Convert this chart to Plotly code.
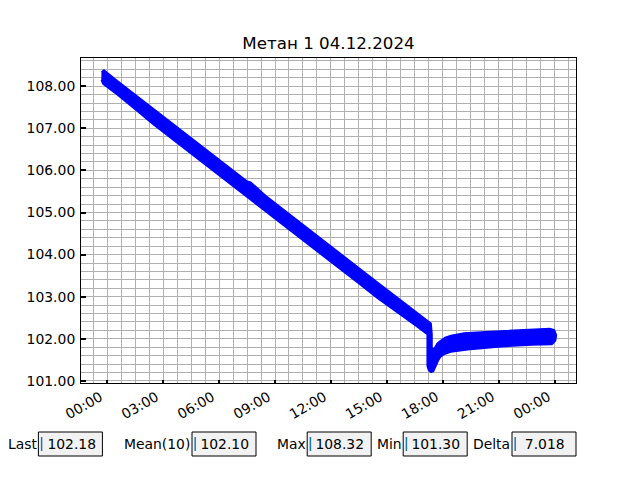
import pandas as pd
import plotly.graph_objects as go

title = "Метан 1 04.12.2024"
day = pd.Timestamp("2024-12-04 00:00")

# Upper edge of the band of readings: hours from midnight, value
hi_h = [-0.305, -0.171, 0.5, 1.5, 2.5, 3.5, 4.5, 5.5, 6.5, 7.5, 7.7, 8.5, 9.5,
        10.5, 11.5, 12.5, 13.5, 14.5, 15.5, 16.5, 17.2, 17.37, 17.42, 17.42,
        17.56, 17.69, 17.88, 18.12, 18.43, 19.14, 20.05, 20.96, 21.85, 22.75,
        23.74, 23.98, 24.09, 24.04]
hi_v = [108.337, 108.385, 108.145, 107.803, 107.459, 107.12, 106.772, 106.430,
        106.086, 105.746, 105.72, 105.402, 105.057, 104.71, 104.371, 104.029,
        103.687, 103.342, 103.000, 102.656, 102.418, 102.364, 102.114, 101.758,
        101.782, 101.888, 101.960, 102.031, 102.079, 102.138, 102.162, 102.181,
        102.200, 102.219, 102.245, 102.21, 102.09, 101.95]

# Lower edge of the band of readings
lo_h = [-0.316, -0.225, 0.5, 1.5, 2.5, 3.5, 4.5, 5.5, 6.5, 7.5, 8.5, 9.5, 10.5,
        11.5, 12.5, 13.5, 14.5, 15.5, 16.5, 17.16, 17.16, 17.16, 17.24, 17.37,
        17.50, 17.61, 17.75, 17.88, 18.12, 18.43, 19.33, 20.96, 22.75, 23.85]
lo_v = [108.148, 108.052, 107.813, 107.447, 107.079, 106.737, 106.392, 106.050,
        105.706, 105.366, 105.021, 104.677, 104.335, 103.991, 103.649, 103.307,
        102.962, 102.644, 102.323, 102.102, 101.687, 101.354, 101.247, 101.200,
        101.223, 101.318, 101.473, 101.568, 101.639, 101.687, 101.737, 101.806,
        101.853, 101.865]

# x tick positions (hours) and labels
tick_h = [0, 3, 6, 9, 12, 15, 18, 21, 24]
tick_labels = ["00:00", "03:00", "06:00", "09:00", "12:00", "15:00",
               "18:00", "21:00", "00:00"]

stat_labels = ["Last", "Mean(10)", "Max", "Min", "Delta"]
stat_values = ["102.18", "102.10", "108.32", "101.30", "7.018"]

y_range = [100.95, 108.67]
x_range_h = [-1.403, 25.14]

# ---- layout geometry (pixels) ----
W, H = 640, 480
L, R, T, B = 81, 64, 58, 97
PW, PH = W - L - R, H - T - B
box_left = [0.06, 0.30, 0.48, 0.63, 0.80]
box_w, box_b, box_h = 0.10, 0.05, 0.05


def px(xp):
    return (xp - L) / PW


def py(yp):
    return (H - B - yp) / PH


def to_time(hours):
    return day + pd.to_timedelta(pd.Series(hours, dtype=float), unit="h")


poly_t = pd.concat([to_time(hi_h), to_time(lo_h[::-1])], ignore_index=True)
poly_v = hi_v + lo_v[::-1]

fig = go.Figure()
fig.add_trace(go.Scatter(
    x=poly_t, y=poly_v, mode="lines", fill="toself",
    fillcolor="#0000ff", line=dict(color="#0000ff", width=1.5),
    hoverinfo="skip", showlegend=False,
))
# empty trace so the overlaid fine-grid axes get a subplot
fig.add_trace(go.Scatter(x=[], y=[], xaxis="x2", yaxis="y2",
                         showlegend=False, hoverinfo="skip"))

font = dict(family="DejaVu Sans", size=13.9, color="black")
grid = "#b0b0b0"

x0 = day + pd.Timedelta(hours=x_range_h[0])
x1 = day + pd.Timedelta(hours=x_range_h[1])

fig.update_layout(
    width=W, height=H,
    margin=dict(l=L, r=R, t=T, b=B, pad=0),
    paper_bgcolor="white", plot_bgcolor="white",
    font=font, showlegend=False,
    title=dict(text=title, x=(328.5) / W, xanchor="center",
               y=1 - 43 / H, yanchor="middle", yref="container",
               font=dict(family="DejaVu Sans", size=16.7, color="black")),
    xaxis=dict(
        type="date", range=[x0, x1], showticklabels=False,
        tickmode="array", tickvals=list(to_time(tick_h)),
        ticks="inside", ticklen=3, tickwidth=2, tickcolor="black",
        showline=True, linecolor="black", linewidth=1, mirror=True,
        showgrid=True, gridcolor=grid, gridwidth=1, zeroline=False,
    ),
    yaxis=dict(
        range=y_range, dtick=1, tick0=101, tickformat=".2f",
        ticks="inside", ticklen=5, tickwidth=2, tickcolor="black",
        showline=True, linecolor="black", linewidth=1, mirror=True,
        showgrid=True, gridcolor=grid, gridwidth=1, zeroline=False,
        tickfont=font, ticklabelstandoff=2,
    ),
    xaxis2=dict(
        type="date", range=[x0, x1], overlaying="x", anchor="y2",
        tick0=day, dtick=45 * 60 * 1000, showticklabels=False,
        ticks="", showline=False, showgrid=True, gridcolor=grid,
        gridwidth=1, zeroline=False,
    ),
    yaxis2=dict(
        range=y_range, overlaying="y", anchor="x2", tick0=101, dtick=0.2,
        showticklabels=False, ticks="", showline=False, showgrid=True,
        gridcolor=grid, gridwidth=1, zeroline=False,
    ),
)

shapes = []
annotations = []

# rotated x tick labels: top-right corner of rotated box at the tick
for t, lab in zip(to_time(tick_h), tick_labels):
    annotations.append(dict(text=lab, xref="x", yref="paper", x=t,
                            y=py(H - B + 4), xanchor="right", yanchor="top",
                            textangle=-30, showarrow=False, borderpad=0,
                            font=font))

for lab, val, bl in zip(stat_labels, stat_values, box_left):
    xl = bl * W
    xr = (bl + box_w) * W
    yt = H - (box_b + box_h) * H
    yb = H - box_b * H
    yc = (yt + yb) / 2
    shapes.append(dict(type="rect", xref="paper", yref="paper",
                       x0=px(xl), x1=px(xr), y0=py(yb), y1=py(yt),
                       fillcolor="#f2f2f2", line=dict(color="black", width=1),
                       layer="above"))
    cx = xl + 0.05 * (xr - xl)
    shapes.append(dict(type="line", xref="paper", yref="paper",
                       x0=px(cx), x1=px(cx), y0=py(yc + 7), y1=py(yc - 7),
                       line=dict(color="#1f77b4", width=1.5), layer="above"))
    annotations.append(dict(text=val.rjust(7).replace(" ", "\u00a0"),
                            xref="paper", yref="paper", x=px(cx), y=py(yc),
                            xanchor="left", yanchor="middle", showarrow=False,
                            borderpad=0, font=font))
    annotations.append(dict(text=lab, xref="paper", yref="paper",
                            x=px(xl - 0.01 * (xr - xl)), y=py(yc),
                            xanchor="right", yanchor="middle", showarrow=False,
                            borderpad=0, font=font))

fig.update_layout(shapes=shapes, annotations=annotations)
fig.write_html("out.html", post_script="document.body.style.margin='0px';",
               config=dict(displayModeBar=False))
